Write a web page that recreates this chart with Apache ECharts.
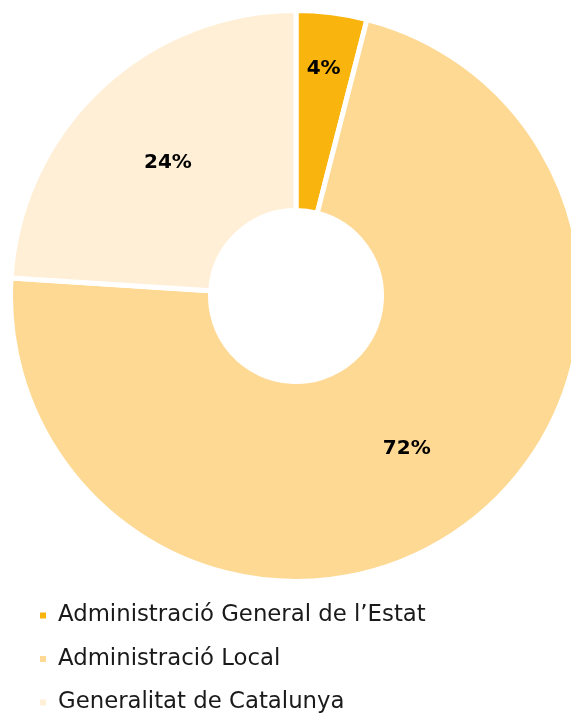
<!DOCTYPE html>
<html>
<head>
<meta charset="utf-8">
<script src="https://cdn.jsdelivr.net/npm/echarts@6/dist/echarts.min.js"></script>
<style>
html,body{margin:0;padding:0;background:#fff;}
#c{width:571px;height:713px;}
</style>
</head>
<body>
<div id="c"></div>
<script>
const categories = ["Administració General de l’Estat", "Administració Local", "Generalitat de Catalunya"];
const values = [4, 72, 24];
const colors = ["#F9B40E", "#FED994", "#FFEFD7"];

const chart = echarts.init(document.getElementById('c'), null, {renderer: 'canvas'});
const labelOffsets = [[4, -40], [0, 0], [1, 4]];
const data = categories.map((n, i) => ({
  name: n, value: values[i], itemStyle: {color: colors[i]},
  label: {offset: labelOffsets[i]}
}));
chart.setOption({
  animation: false,
  legend: {
    orient: 'vertical',
    left: 38,
    top: 604,
    padding: 0,
    height: 140,
    icon: 'rect',
    itemWidth: 8,
    itemHeight: 8,
    itemGap: 20.5,
    textStyle: {
      fontFamily: '"DejaVu Sans", sans-serif',
      fontSize: 22.8,
      lineHeight: 22,
      color: '#1a1a1a',
      padding: [0, 0, 0, 6]
    },
    data: categories
  },
  series: [{
    type: 'pie',
    center: [296, 296],
    radius: [85.5, 285.5],
    startAngle: 90,
    clockwise: true,
    avoidLabelOverlap: false,
    itemStyle: {borderColor: '#fff', borderWidth: 5},
    label: {
      show: true,
      position: 'inside',
      formatter: '{c}%',
      fontFamily: '"DejaVu Sans", sans-serif',
      fontWeight: 'bold',
      fontSize: 20,
      color: '#000'
    },
    labelLine: {show: false},
    emphasis: {disabled: true},
    data: data
  }]
});
</script>
</body>
</html>
